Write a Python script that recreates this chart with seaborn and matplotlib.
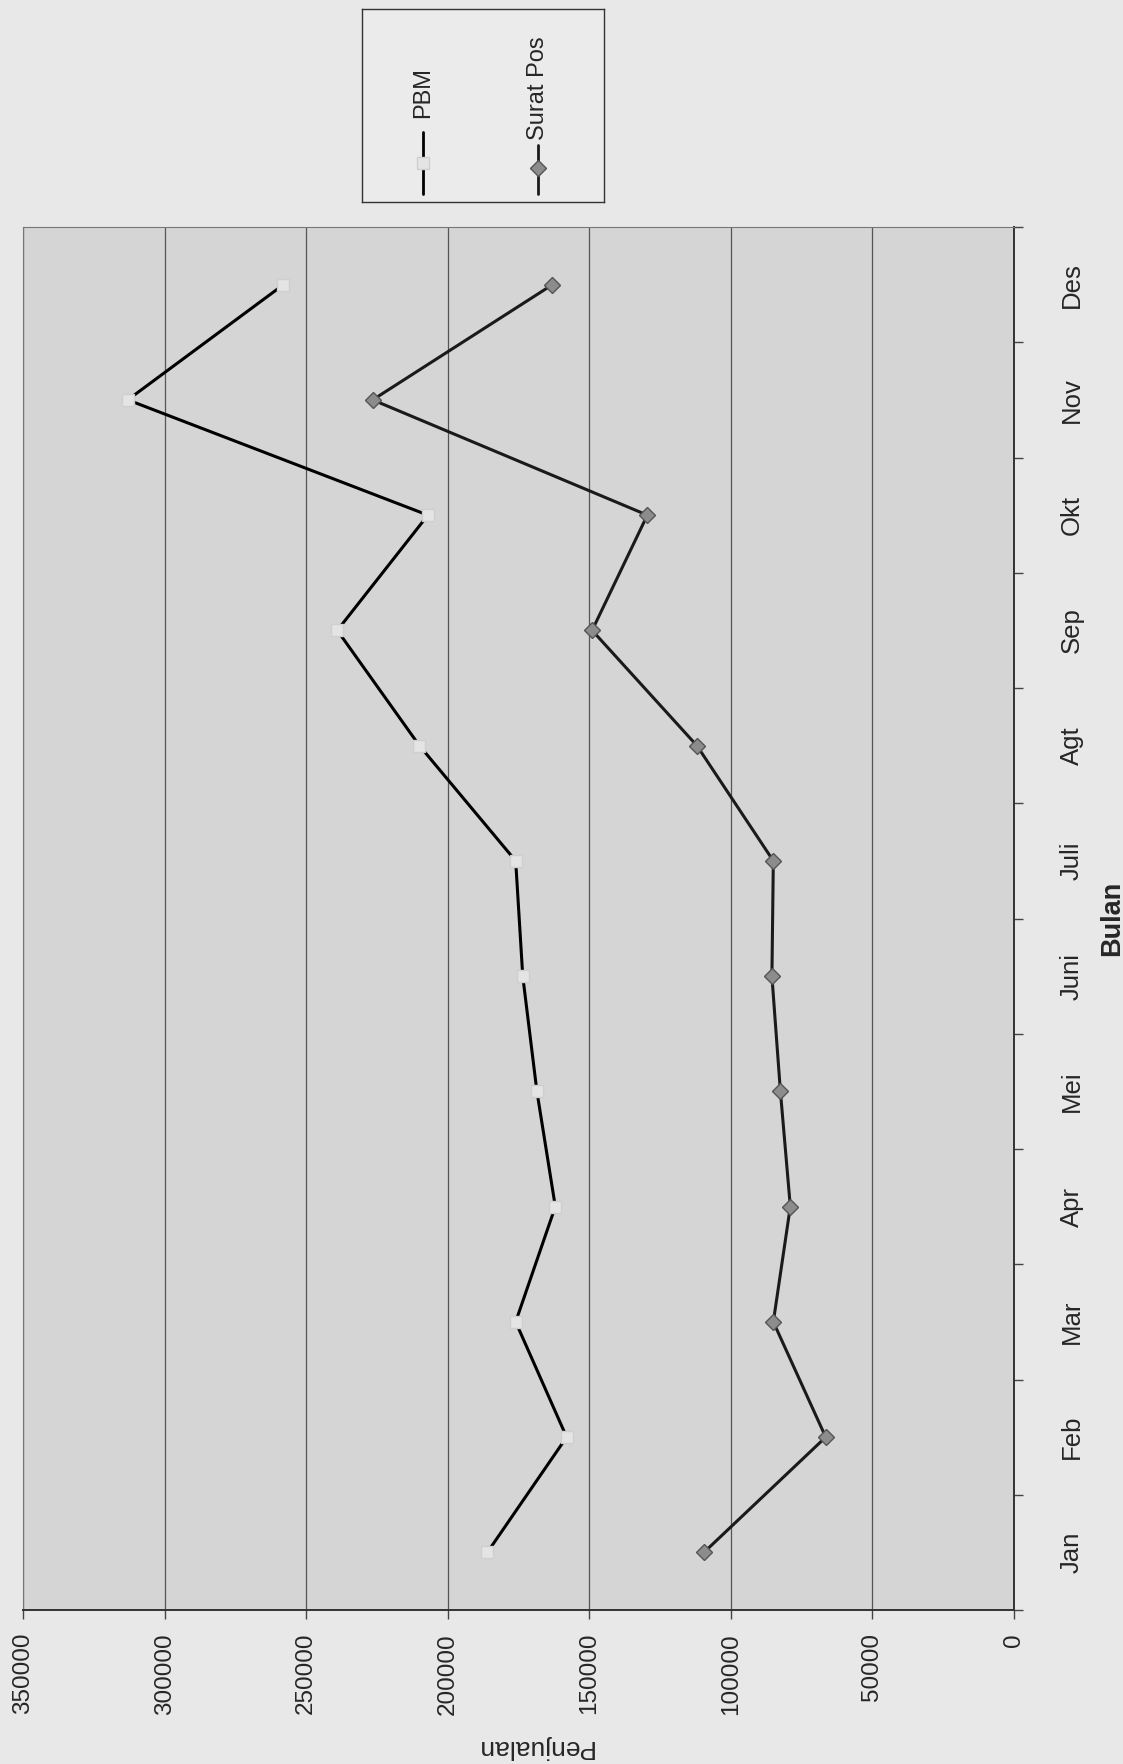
"""
Penjualan PBM vs Surat Pos per bulan (scanned page, chart turned on its side)
"""

import matplotlib
matplotlib.use('Agg')
import matplotlib.pyplot as plt
import seaborn as sns
import numpy as np

# data
months = ['Jan', 'Feb', 'Mar', 'Apr', 'Mei', 'Juni', 'Juli', 'Agt', 'Sep', 'Okt', 'Nov', 'Des']
pbm = [186000, 158000, 176000, 162000, 168500, 173500, 176000, 210000, 239000, 207000, 313000, 258000]
surat_pos = [109500, 66500, 85000, 79000, 82500, 85500, 85000, 112000, 149000, 129500, 226500, 163000]
value_ticks = [0, 50000, 100000, 150000, 200000, 250000, 300000, 350000]
series_names = ['PBM', 'Surat Pos']

sns.set_style('white')
plt.rcParams['font.family'] = ['Liberation Sans', 'DejaVu Sans']

W, H = 1123, 1764
fig = plt.figure(figsize=(W / 100, H / 100), dpi=100)
fig.patch.set_facecolor('#e8e8e8')

# plot area in pixels: x 23..1014, y 227..1610
ax = fig.add_axes([23 / W, 1 - 1610 / H, (1014 - 23) / W, (1610 - 227) / H])
ax.set_facecolor('#d5d5d5')

idx = np.arange(len(months))

# the chart is rotated: values run along x (reversed), months along y
sns.lineplot(x=pbm, y=idx, sort=False, estimator=None, ax=ax, color='black', lw=2.2,
             marker='s', markersize=9, markerfacecolor='#e4e4e4', markeredgecolor='#cfcfcf',
             markeredgewidth=1)
sns.lineplot(x=surat_pos, y=idx, sort=False, estimator=None, ax=ax, color='#1a1a1a', lw=2.2,
             marker='D', markersize=8, markerfacecolor='#8c8c8c', markeredgecolor='#555555',
             markeredgewidth=1)

ax.set_xlim(350000, 0)
ax.set_ylim(-0.5, len(months) - 0.5)

ax.set_xticks(value_ticks)
ax.set_xticklabels([str(v) for v in value_ticks], rotation=90, fontsize=17.5)
ax.tick_params(axis='x', length=6.5, width=1, pad=10, direction='out', bottom=True, color='#444444')

ax.yaxis.tick_right()
ax.set_yticks(idx)
ax.set_yticklabels(months, rotation=90, va='center', fontsize=18.5)
ax.set_yticks(np.arange(-0.5, len(months), 1), minor=True)
ax.tick_params(axis='y', which='major', length=0, pad=33, right=True, left=False)
ax.tick_params(axis='y', which='minor', length=6.5, width=1, direction='out', right=True,
               left=False, color='#444444')

ax.grid(axis='x', color='#555555', lw=0.9)
ax.grid(axis='y', visible=False)
ax.set_axisbelow(True)

for side in ['right', 'bottom']:
    ax.spines[side].set_color('#333333')
    ax.spines[side].set_linewidth(1.4)
    ax.spines[side].set_linestyle((0, (4, 1)))
for side in ['top', 'left']:
    ax.spines[side].set_color('#777777')
    ax.spines[side].set_linewidth(0.8)

ax.set_xlabel('')
ax.set_ylabel('')

# axis titles (turned with the chart)
fig.text(534 / W, 1 - 1747 / H, 'Penjualan', rotation=180, ha='center', va='center', fontsize=19)
fig.text(1112 / W, 1 - 918 / H, 'Bulan', rotation=90, ha='center', va='center', fontsize=19.5,
         fontweight='bold')

# legend box, drawn by hand so it can be turned too
lax = fig.add_axes([362 / W, 1 - 202 / H, (604 - 362) / W, (202 - 9) / H])
lax.set_facecolor('#ebebeb')
lax.set_xlim(362, 604)
lax.set_ylim(202, 9)
lax.set_xticks([])
lax.set_yticks([])
for s in lax.spines.values():
    s.set_color('#333333')
    s.set_linewidth(1)

lax.plot([423, 423], [132, 194], color='black', lw=2)
lax.plot([423], [163], marker='s', markersize=9, markerfacecolor='#e4e4e4',
         markeredgecolor='#cfcfcf', lw=0)
lax.text(423, 118, series_names[0], rotation=90, ha='center', va='bottom', fontsize=17)

lax.plot([538, 538], [145, 194], color='#1a1a1a', lw=2)
lax.plot([538], [168], marker='D', markersize=8, markerfacecolor='#8c8c8c',
         markeredgecolor='#555555', lw=0)
lax.text(538, 140, series_names[1], rotation=90, ha='center', va='bottom', fontsize=17)

fig.savefig('out.png', dpi=100, facecolor=fig.get_facecolor())
